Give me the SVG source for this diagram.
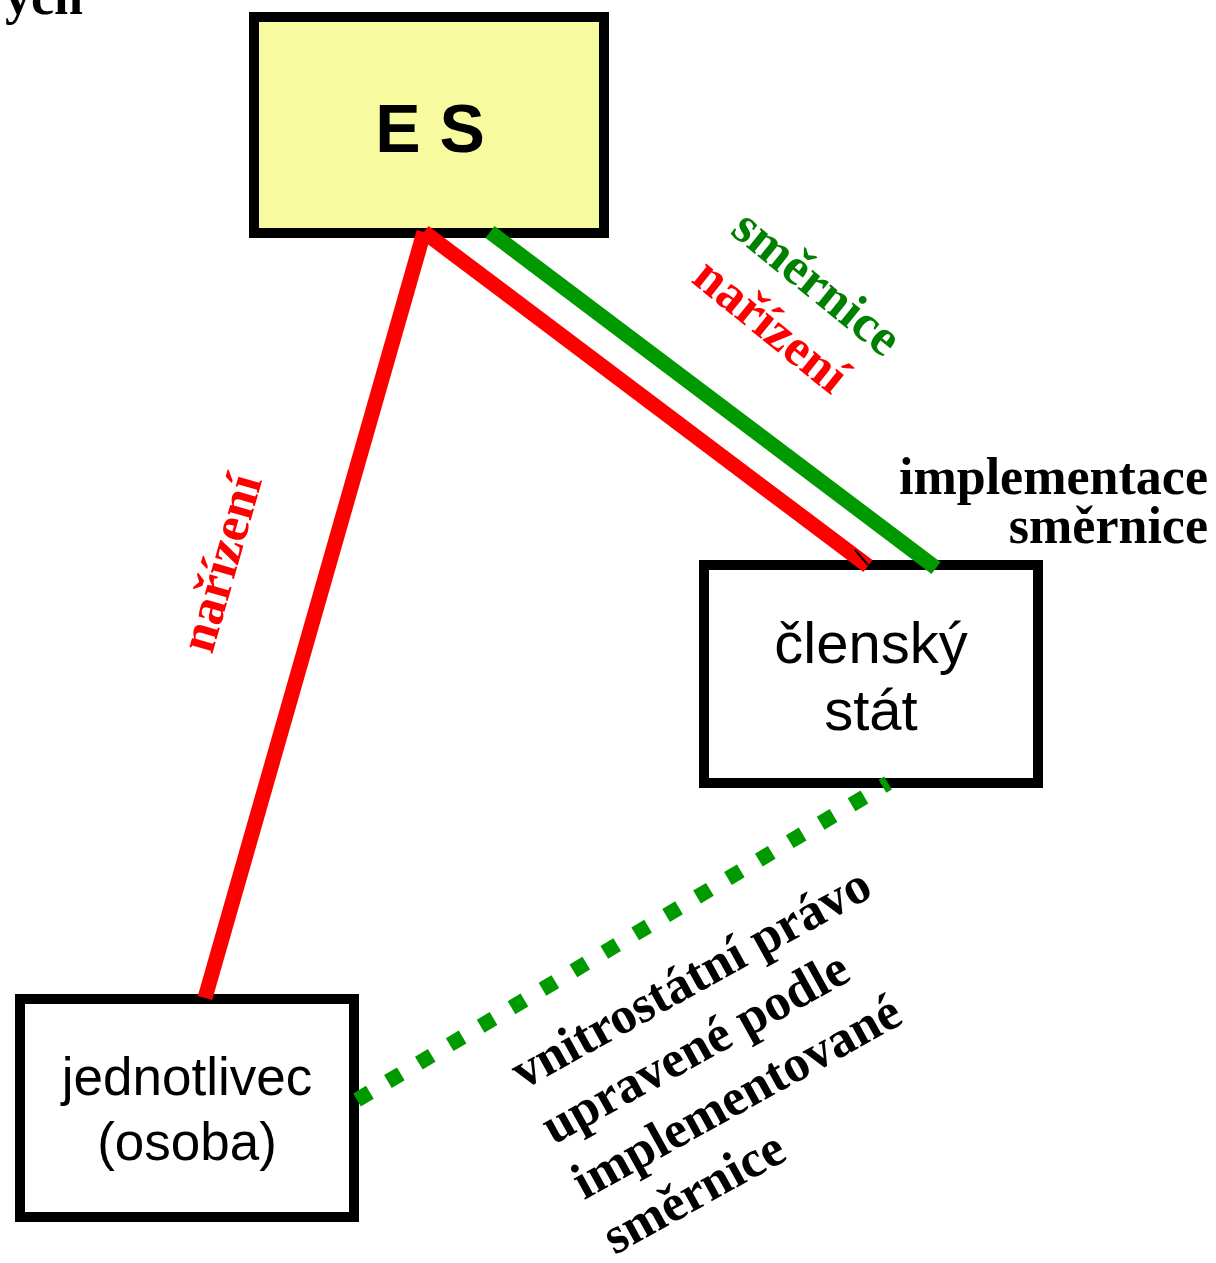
<svg xmlns="http://www.w3.org/2000/svg" width="1216" height="1263" viewBox="0 0 1216 1263">
<style>
.box{stroke:#000;stroke-width:10}
.sans{font-family:"Liberation Sans",Arial,sans-serif}
.serif{font-family:"Liberation Serif","Times New Roman",serif;font-weight:bold;font-size:52px}
.red{stroke:#ff0000;stroke-width:15;fill:none}
.green{stroke:#009900;stroke-width:15;fill:none}
</style>
<rect width="1216" height="1263" fill="#fff"/>
<text class="serif" x="5" y="14">ych</text>
<g id="es">
<rect class="box" x="254" y="17" width="350" height="216" fill="#f8faa0"/>
<text class="sans" x="430" y="152" font-size="68" font-weight="bold" text-anchor="middle">E S</text>
</g>
<g id="clensky-stat">
<rect class="box" x="704" y="565" width="334" height="218" fill="#fff"/>
<text class="sans" x="871" y="663" font-size="58" text-anchor="middle">členský</text>
<text class="sans" x="871" y="730" font-size="58" text-anchor="middle">stát</text>
</g>
<g id="jednotlivec">
<rect class="box" x="20" y="999" width="334" height="218" fill="#fff"/>
<text class="sans" x="187" y="1095" font-size="53" text-anchor="middle">jednotlivec</text>
<text class="sans" x="187" y="1160" font-size="53" text-anchor="middle">(osoba)</text>
</g>
<g id="connectors">
<line class="red" x1="424" y1="232" x2="205" y2="998"/>
<line class="red" x1="424" y1="232" x2="868" y2="566"/>
<line x1="855" y1="550" x2="868" y2="565" stroke="#000" stroke-width="2"/>
<line class="green" x1="490" y1="232" x2="936" y2="568"/>
<line class="green" x1="357" y1="1100" x2="888" y2="783" stroke-dasharray="15 21"/>
</g>
<g id="labels">
<g transform="translate(729,233) rotate(39)">
<text class="serif" x="0" y="0" fill="#008000">směrnice</text>
<text class="serif" x="0" y="62" fill="#ff0000">nařízení</text>
</g>
<text class="serif" transform="translate(212,655) rotate(-74)" fill="#ff0000">nařízení</text>
<text class="serif" x="1208" y="494" text-anchor="end">implementace</text>
<text class="serif" x="1208" y="543" text-anchor="end">směrnice</text>
<g transform="translate(523,1090) rotate(-29)">
<text class="serif" x="0" y="0">vnitrostátní právo</text>
<text class="serif" x="0" y="63">upravené podle</text>
<text class="serif" x="0" y="126">implementované</text>
<text class="serif" x="0" y="189">směrnice</text>
</g>
</g>
</svg>
